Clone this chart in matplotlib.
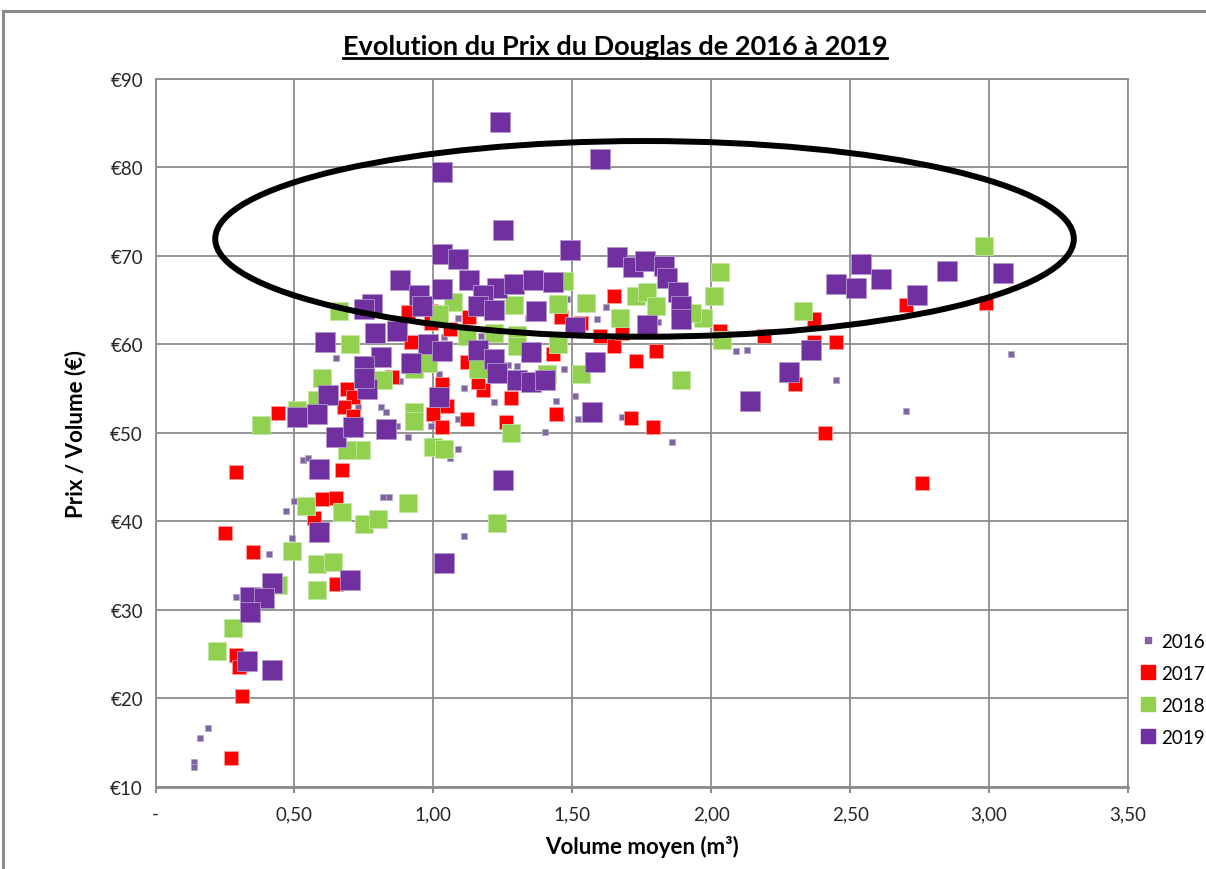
import numpy as np
import matplotlib
matplotlib.use("Agg")
import matplotlib.pyplot as plt
from matplotlib.patches import Ellipse
from matplotlib.lines import Line2D
from matplotlib.ticker import FuncFormatter, MultipleLocator

plt.rcParams['font.family'] = ['Lato', 'DejaVu Sans']

# ============================
# Données (volume moyen m3, prix/volume EUR)
# ============================
x_2016 = [0.19, 0.16, 0.14, 0.14, 0.29, 0.41, 0.49, 0.47, 0.50, 0.53, 0.55, 0.66, 0.82, 0.84,
          0.87, 0.91, 0.99, 1.09, 1.06, 1.11, 1.40, 1.11, 1.22, 1.44, 1.51, 1.09, 1.46, 1.52,
          1.68, 1.86, 2.09, 2.13, 2.45, 2.70, 3.08, 1.62, 1.59, 1.81, 1.09, 1.04, 1.17, 1.48,
          1.34, 0.65, 1.02, 1.27, 1.30, 1.47, 0.81, 0.83, 0.73, 0.88]
y_2016 = [16.7, 15.5, 12.8, 12.3, 31.5, 36.3, 38.1, 41.2, 42.3, 46.9, 47.2, 45.3, 42.7, 42.7,
          50.8, 49.5, 50.8, 48.2, 47.2, 38.4, 50.1, 55.1, 53.5, 53.6, 54.2, 51.6, 51.7, 51.6,
          51.8, 49.0, 59.2, 59.3, 56.0, 52.5, 58.9, 64.2, 62.8, 62.5, 63.0, 60.8, 60.9, 65.1,
          63.0, 58.4, 56.6, 57.7, 57.5, 57.2, 52.9, 52.4, 52.9, 55.8]

x_2017 = [0.91, 0.99, 0.99, 1.06, 1.13, 1.46, 1.53, 0.92, 0.85, 1.12, 1.43, 1.40, 0.69, 0.71,
          0.68, 0.44, 0.71, 1.00, 1.03, 1.03, 1.18, 1.28, 1.05, 1.12, 1.26, 1.44, 1.71, 1.79,
          1.16, 0.29, 0.67, 0.60, 0.65, 0.57, 0.25, 0.35, 0.65, 0.29, 0.30, 0.31, 0.27, 1.65,
          1.60, 1.65, 1.68, 1.73, 1.80, 2.03, 2.19, 2.37, 2.37, 2.45, 2.30, 2.41, 2.70, 2.99,
          2.76]
y_2017 = [63.6, 63.8, 62.4, 61.7, 63.1, 63.1, 62.4, 60.3, 56.3, 58.0, 58.9, 56.9, 54.9, 54.0,
          52.9, 52.2, 51.9, 52.1, 50.6, 55.5, 54.8, 53.9, 53.0, 51.6, 51.2, 52.1, 51.7, 50.6,
          55.7, 45.6, 45.8, 42.5, 42.6, 40.4, 38.7, 36.5, 32.9, 24.9, 23.6, 20.3, 13.3, 65.4,
          60.9, 59.8, 61.3, 58.1, 59.2, 61.5, 60.9, 62.9, 60.3, 60.3, 55.5, 50.0, 64.4, 64.7,
          44.3]

x_2018 = [0.66, 0.70, 0.60, 0.38, 0.51, 0.58, 0.93, 0.93, 0.74, 0.69, 0.82, 0.93, 1.00, 1.04,
          1.28, 1.07, 1.02, 1.29, 1.45, 1.47, 1.55, 1.12, 1.22, 1.30, 1.45, 1.30, 1.16, 1.41,
          1.53, 0.98, 0.54, 0.67, 0.75, 0.80, 0.91, 1.23, 0.49, 0.58, 0.64, 0.58, 0.44, 0.28,
          0.22, 1.67, 1.73, 1.77, 1.80, 2.03, 2.01, 1.97, 2.04, 2.33, 2.98, 1.89, 1.93]
y_2018 = [63.7, 60.0, 56.2, 50.9, 52.6, 53.7, 52.4, 51.3, 48.1, 48.1, 56.0, 57.2, 48.4, 48.2,
          50.0, 64.8, 63.4, 64.4, 64.5, 67.1, 64.7, 60.9, 61.3, 61.0, 60.0, 59.8, 57.2, 56.6,
          56.6, 57.9, 41.7, 41.0, 39.7, 40.3, 42.1, 39.8, 36.6, 35.2, 35.4, 32.3, 32.8, 27.9,
          25.4, 63.0, 65.5, 65.9, 64.3, 68.2, 65.4, 63.0, 60.5, 63.8, 71.1, 56.0, 63.5]

x_2019 = [1.24, 1.03, 1.60, 1.25, 1.49, 1.03, 1.09, 0.88, 1.13, 1.03, 0.95, 1.23, 1.29, 1.36,
          1.43, 1.18, 1.16, 1.22, 0.96, 0.78, 0.75, 1.37, 0.79, 0.87, 0.61, 1.51, 0.98, 1.03,
          1.16, 1.22, 1.35, 1.58, 0.81, 0.75, 0.92, 0.76, 0.75, 0.62, 1.02, 1.23, 1.30, 1.35,
          1.40, 0.51, 0.58, 0.65, 0.71, 0.83, 1.57, 0.59, 0.59, 1.25, 1.04, 0.70, 0.42, 0.34,
          0.39, 0.34, 0.33, 0.42, 1.66, 1.72, 1.76, 1.83, 1.84, 1.88, 1.89, 1.89, 1.77, 2.14,
          2.28, 2.36, 2.45, 2.54, 2.52, 2.61, 2.74, 2.85, 3.05]
y_2019 = [85.1, 79.4, 80.9, 72.9, 70.7, 70.2, 69.6, 67.3, 67.3, 66.2, 65.6, 66.4, 66.8, 67.3,
          67.0, 65.6, 64.3, 63.9, 64.3, 64.5, 64.0, 63.7, 61.3, 61.5, 60.2, 61.9, 60.0, 59.2,
          59.4, 58.3, 59.1, 58.0, 58.6, 57.5, 57.9, 54.9, 56.2, 54.3, 54.0, 56.8, 56.0, 55.7,
          56.0, 51.8, 52.1, 49.5, 50.7, 50.4, 52.3, 45.9, 38.8, 44.7, 35.3, 33.4, 33.0, 31.5,
          31.3, 29.8, 24.2, 23.2, 69.9, 68.7, 69.4, 68.8, 67.5, 65.9, 64.3, 62.8, 62.2, 53.6,
          56.9, 59.4, 66.8, 69.1, 66.3, 67.4, 65.6, 68.3, 68.1]

series = [
    ("2016", x_2016, y_2016, "#8064A2", "#b7a6cc", 19, 4.3),
    ("2017", x_2017, y_2017, "#FF0000", "#ff9a9a", 88, 9.4),
    ("2018", x_2018, y_2018, "#92D050", "#c4e6a3", 169, 9.8),
    ("2019", x_2019, y_2019, "#7030A0", "#b496cc", 222, 9.6),
]

# zone entourée
ELL_CENTER = (1.76, 71.9)
ELL_W, ELL_H = 3.09, 22.1

GRID = "#8c8c8c"

fig = plt.figure(figsize=(12.06, 8.70), dpi=100)
ax = fig.add_axes([155.5 / 1206, 1 - 788 / 870, (1128 - 155.5) / 1206, (788 - 79.6) / 870])

handles = []
for label, xs, ys, col, edge, s, leg_ms in series:
    ax.scatter(xs, ys, s=s, marker='s', c=col, edgecolors=edge, linewidths=0.6, zorder=3)
    handles.append(Line2D([], [], ls='none', marker='s', color=col, markeredgecolor=col,
                          markersize=leg_ms, label=label))

ax.add_patch(Ellipse(ELL_CENTER, ELL_W, ELL_H, fill=False, ec='black', lw=4.3, zorder=5))

ax.set_xlim(0, 3.5)
ax.set_ylim(10, 90)
ax.xaxis.set_major_locator(MultipleLocator(0.5))
ax.yaxis.set_major_locator(MultipleLocator(10))
ax.xaxis.set_major_formatter(FuncFormatter(lambda v, p: "-" if abs(v) < 1e-9 else f"{v:.2f}".replace(".", ",")))
ax.yaxis.set_major_formatter(FuncFormatter(lambda v, p: f"€{v:.0f}"))
ax.grid(True, color=GRID, lw=1.3, zorder=0)
ax.set_axisbelow(True)
for sp in ax.spines.values():
    sp.set_color(GRID)
    sp.set_linewidth(1.3)
ax.spines['bottom'].set_linewidth(2.0)
ax.tick_params(axis='x', direction='out', length=4, width=1.5, color=GRID, pad=9,
               labelsize=13.5, labelcolor='#262626')
ax.tick_params(axis='y', length=0, pad=9, labelsize=13.5, labelcolor='#262626')

ax.set_xlabel("Volume moyen (m³)", fontsize=16, fontweight='bold', labelpad=9)
ax.set_ylabel("Prix / Volume (€)", fontsize=16, fontweight='bold', labelpad=17)

ax.legend(handles=handles, loc='center left', bbox_to_anchor=(1133 / 1206, 1 - 690 / 870),
          bbox_transform=fig.transFigure, frameon=False, fontsize=13.5, handlelength=0.8,
          handletextpad=0.3, labelspacing=0.8, borderaxespad=0)

title = fig.text(615 / 1206, 1 - 47 / 870, "Evolution du Prix du Douglas de 2016 à 2019",
                 ha='center', va='center', fontsize=19.5, fontweight='bold')

# cadre du graphique
fig.add_artist(Line2D([3 / 1206, 3 / 1206], [0, 1 - 12 / 870], color=GRID, lw=2.2))
fig.add_artist(Line2D([3 / 1206, 1], [1 - 12 / 870, 1 - 12 / 870], color=GRID, lw=2.2))

# soulignement du titre
fig.canvas.draw()
bb = title.get_window_extent(fig.canvas.get_renderer())
yline = (bb.y0 + 0.5) / fig.bbox.height
fig.add_artist(Line2D([bb.x0 / fig.bbox.width, bb.x1 / fig.bbox.width], [yline, yline],
                      color='black', lw=2.0))

fig.savefig("out.png", dpi=100)
